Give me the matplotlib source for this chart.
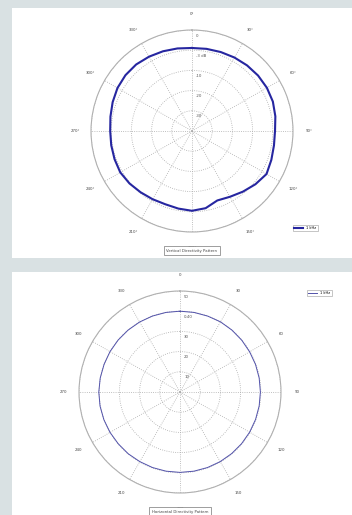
import numpy as np
import matplotlib.pyplot as plt
from matplotlib.patches import Rectangle

# angle of each sample, degrees clockwise from the top
angles_deg = list(range(0, 360, 10))

# vertical pattern (ring scale 0..50)
vertical_level = [41.1, 41.3, 41.6, 42.0, 42.4, 42.7, 42.8, 42.6, 41.9, 41.1,
                  41.2, 41.8, 42.6, 41.0, 39.2, 37.6, 36.6, 38.8, 39.5, 39.0,
                  38.6, 39.0, 39.6, 40.4, 41.0, 40.8, 40.6, 40.5, 41.0, 41.8,
                  42.6, 43.0, 43.0, 42.5, 42.0, 41.5]

# horizontal pattern is almost a circle
horizontal_level = [40.0, 40.0, 40.0, 40.1, 40.0, 39.9, 39.8, 39.8, 39.8, 39.8,
                    39.8, 39.8, 39.8, 39.8, 39.8, 39.8, 39.8, 39.8, 39.8, 39.8,
                    39.8, 39.8, 39.9, 39.9, 40.0, 40.1, 40.2, 40.2, 40.1, 40.0,
                    40.0, 40.0, 40.0, 40.0, 40.0, 40.0]

ring_values = [10, 20, 30, 40, 50]
ring_labels_v = ['-30', '-20', '-10', '-3 dB', '0']
ring_labels_h = ['10', '20', '30', '0-40', '50']
theta_labels_v = ['0°', '30°', '60°', '90°', '120°', '150°', '180°',
                  '210°', '240°', '270°', '300°', '330°']
theta_labels_h = ['0', '30', '60', '90', '120', '150', '180',
                  '210', '240', '270', '300', '330']
series_name = '1 kHz'

fig = plt.figure(figsize=(3.52, 5.15), dpi=100)
fig.patch.set_facecolor('#d9e1e3')

# white panels behind each plot
for y0, h in [(1 - 258 / 515, 250 / 515), (0.0, 243 / 515)]:
    fig.patches.append(Rectangle((12 / 352, y0), 1 - 12 / 352, h,
                                 transform=fig.transFigure, facecolor='white',
                                 edgecolor='none', zorder=-5))


def closed(a, v):
    th = np.deg2rad(list(a) + [a[0]])
    return th, list(v) + [v[0]]


def polar_panel(rect, levels, ring_lbls, theta_lbls, color, lw, legend_loc, title):
    ax = fig.add_axes(rect, projection='polar')
    ax.set_facecolor('none')
    ax.set_theta_zero_location('N')
    ax.set_theta_direction(-1)
    ax.set_ylim(0, 50)
    ax.set_rgrids(ring_values, labels=[''] * len(ring_values))
    ax.set_thetagrids(np.arange(0, 360, 30), labels=theta_lbls,
                      fontsize=2.8, color='#444444')
    ax.tick_params(axis='x', pad=1)
    ax.grid(True, color='#aaaaaa', linestyle=':', linewidth=0.6)
    ax.spines['polar'].set_color('#b0b0b0')
    ax.spines['polar'].set_linewidth(0.8)
    th, r = closed(angles_deg, levels)
    ax.plot(th, r, color=color, linewidth=lw, label=series_name)
    for val, lbl in zip(ring_values, ring_lbls):
        ax.annotate(lbl, xy=(0, val), xytext=(3, -4), textcoords='offset points',
                    fontsize=2.8, color='#555555', ha='left', va='center')
    leg = ax.legend(loc='center', bbox_to_anchor=legend_loc, fontsize=2.6,
                    frameon=True, fancybox=False, handlelength=2.5,
                    borderpad=0.4, edgecolor='#999999')
    leg.get_frame().set_linewidth(0.5)
    cx = rect[0] + rect[2] / 2
    ty = rect[1] - 0.036
    fig.text(cx, ty, title, fontsize=2.8, color='#444444', ha='center', va='center',
             bbox=dict(boxstyle='square,pad=0.6', facecolor='white',
                       edgecolor='#777777', linewidth=0.5))
    return ax


polar_panel([91 / 352, 1 - 232 / 515, 202 / 352, 202 / 515], vertical_level,
            ring_labels_v, theta_labels_v, '#2626a0', 1.5, (1.06, 0.02),
            'Vertical Directivity Pattern')
polar_panel([79 / 352, 1 - 493 / 515, 202 / 352, 202 / 515], horizontal_level,
            ring_labels_h, theta_labels_h, '#5252aa', 0.7, (1.19, 0.99),
            'Horizontal Directivity Pattern')

fig.savefig('out.png', dpi=100, facecolor=fig.get_facecolor())
